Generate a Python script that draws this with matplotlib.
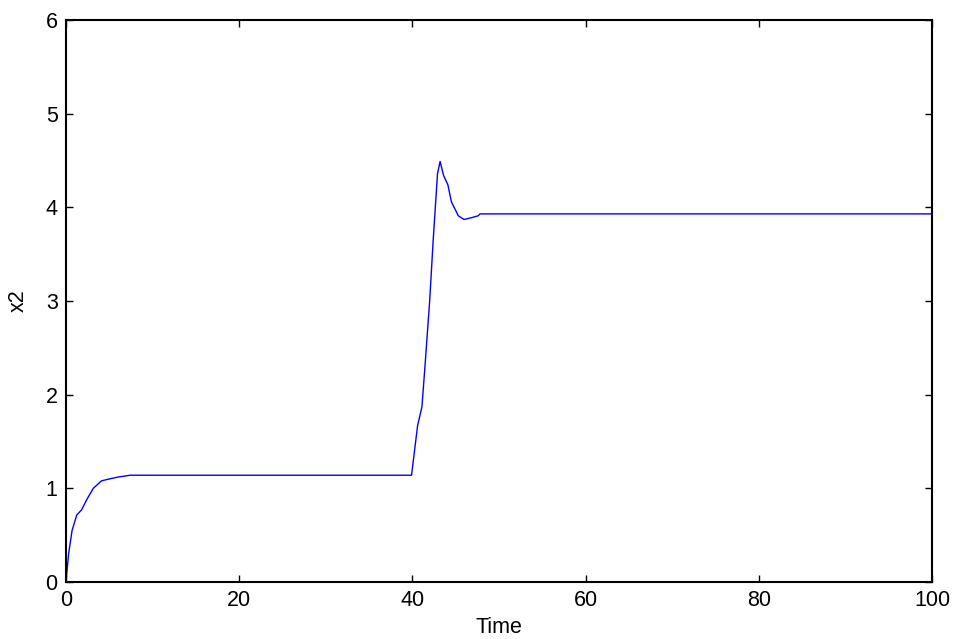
import numpy as np
import matplotlib.pyplot as plt

plt.rcParams['font.family'] = ['Liberation Sans', 'DejaVu Sans']

# x2 response
time = [0.0, 0.3, 0.7, 1.24, 1.8, 2.4, 3.15, 4.1, 5.0, 6.0, 7.4,
        39.9, 40.6, 41.1, 41.45, 42.0, 42.4, 42.9, 43.2, 43.6, 44.1,
        44.5, 45.3, 45.96, 46.85, 47.6, 47.8, 100.0]
x2 = [0.0, 0.3, 0.55, 0.715, 0.77, 0.88, 1.0, 1.08, 1.1, 1.12, 1.14,
      1.14, 1.67, 1.87, 2.3, 3.01, 3.65, 4.36, 4.49, 4.34, 4.24,
      4.06, 3.91, 3.87, 3.89, 3.91, 3.93, 3.93]

xticks = [0, 20, 40, 60, 80, 100]
yticks = [0, 1, 2, 3, 4, 5, 6]

fig = plt.figure(figsize=(9.55, 6.39), dpi=100)
ax = fig.add_axes([66 / 955, 1 - 582 / 639, 866 / 955, 562 / 639])
ax.plot(time, x2, color='#0000ff', linewidth=1.0)

ax.set_xlim(0, 100)
ax.set_ylim(0, 6)
ax.set_xticks(xticks)
ax.set_yticks(yticks)
ax.tick_params(direction='in', length=5, width=1, top=True, right=True,
               labelsize=15.5)
ax.tick_params(axis='x', pad=6)
ax.tick_params(axis='y', pad=6)
for s in ax.spines.values():
    s.set_linewidth(1.5)

ax.set_xlabel('Time', fontsize=15.5, va='center')
ax.xaxis.set_label_coords(0.5, -0.081)
ax.set_ylabel('x2', fontsize=15.5, va='center')
ax.yaxis.set_label_coords(-0.055, 0.5)

fig.savefig('out.png', dpi=100)
